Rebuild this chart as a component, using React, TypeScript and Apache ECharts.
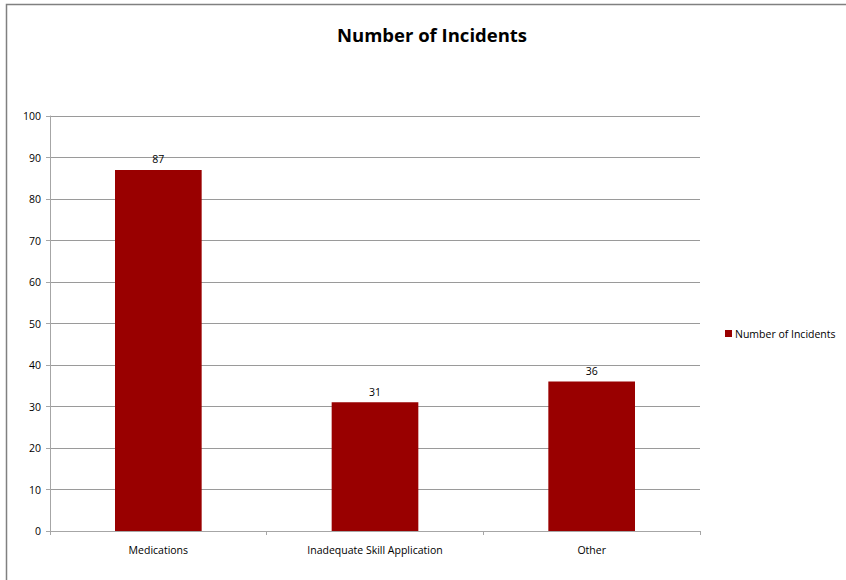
import React, { useEffect, useRef } from "react";
import * as echarts from "echarts";

const categories = ["Medications", "Inadequate Skill Application", "Other"];
const incidents = [87, 31, 36];
const seriesName = "Number of Incidents";
const titleText = "Number of Incidents";

export default function App() {
  const ref = useRef<HTMLDivElement>(null);
  useEffect(() => {
    if (!ref.current) return;
    const chart = echarts.init(ref.current, null, { renderer: "svg" });
    const font = "'Open Sans', 'Liberation Sans', sans-serif";
    chart.setOption({
      animation: false,
      backgroundColor: "#ffffff",
      title: {
        text: titleText,
        left: 427,
        top: 20,
        textAlign: "center",
        textStyle: { fontFamily: font, fontSize: 18.5, fontWeight: "bold", color: "#000" },
      },
      legend: {
        data: [seriesName],
        left: 720,
        top: 323,
        orient: "vertical",
        icon: "rect",
        itemWidth: 7,
        itemHeight: 7,
        itemGap: 4,
        textStyle: { fontFamily: font, fontSize: 10.5, color: "#000", padding: [0, 0, 0, -2] },
      },
      grid: { left: 50, right: 146, top: 116, bottom: 49, containLabel: false },
      xAxis: {
        type: "category",
        data: categories,
        axisLine: { lineStyle: { color: "#a6a6a6", width: 1 } },
        axisTick: { show: true, alignWithLabel: false, length: 4, lineStyle: { color: "#a6a6a6" } },
        axisLabel: { fontFamily: font, fontSize: 10.5, color: "#000", margin: 13 },
      },
      yAxis: {
        type: "value",
        min: 0,
        max: 100,
        interval: 10,
        axisLine: { show: true, lineStyle: { color: "#a6a6a6", width: 1 } },
        axisTick: { show: true, length: 4, lineStyle: { color: "#a6a6a6" } },
        axisLabel: { fontFamily: font, fontSize: 10.5, color: "#000", margin: 9 },
        splitLine: { show: true, lineStyle: { color: "#9a9a9a", width: 1 } },
      },
      series: [
        {
          name: seriesName,
          type: "bar",
          data: incidents,
          barWidth: "40%",
          itemStyle: { color: "#990000" },
          label: {
            show: true,
            position: "top",
            distance: 5,
            fontFamily: font,
            fontSize: 10.5,
            color: "#000",
          },
        },
      ],
      graphic: [
        {
          type: "rect",
          shape: { x: 6.5, y: 4.5, width: 900, height: 700 },
          style: { fill: "none", stroke: "#808080", lineWidth: 1.5 },
          silent: true,
        },
      ],
    });
    return () => chart.dispose();
  }, []);
  return (
    <div
      ref={ref}
      style={{ position: "absolute", left: 0, top: 0, width: 846, height: 580 }}
    />
  );
}
